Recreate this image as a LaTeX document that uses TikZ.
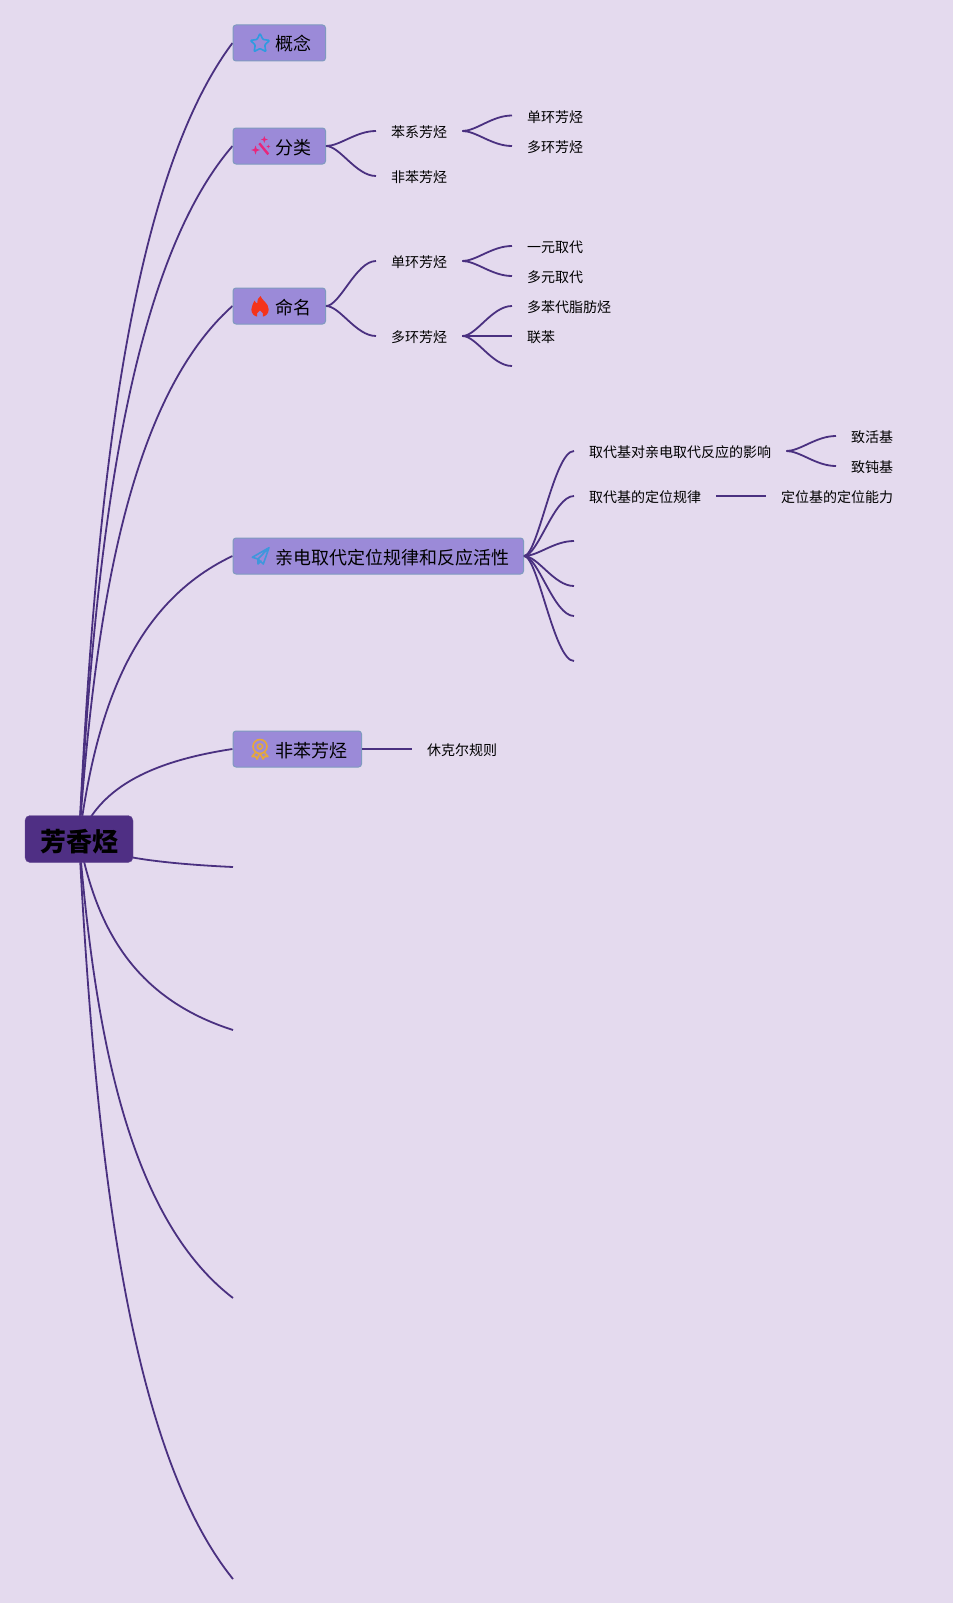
\documentclass[tikz,border=0pt]{standalone}
\usepackage{fontspec}
\setmainfont{Noto Sans CJK SC}
\usetikzlibrary{calc,backgrounds}
\definecolor{paper}{HTML}{E4DAEE}
\definecolor{linkcol}{HTML}{4A3080}
\definecolor{rootcol}{HTML}{4F2F84}
\definecolor{topiccol}{HTML}{9B8AD8}
\definecolor{edgecol}{HTML}{7F9ABF}
\tikzset{
	link/.style={linkcol,line width=1.8pt},
	rootnode/.style={fill=rootcol,draw=rootcol!85!white,rounded corners=5pt,minimum width=108pt,minimum height=47pt,inner sep=0pt,text height=24pt,text depth=0pt,font=\fontsize{26}{30}\selectfont\bfseries},
	topic/.style={anchor=west,fill=topiccol,draw=edgecol,line width=1pt,rounded corners=3pt,minimum height=36pt,inner xsep=14pt,inner ysep=0pt,text height=17pt,text depth=1pt,font=\fontsize{18}{22}\selectfont},
	leaf/.style={anchor=west,inner xsep=15pt,inner ysep=0pt,text height=15pt,text depth=2pt,font=\fontsize{14}{16}\selectfont},
	icon/.style={line width=1.6pt,line join=round,line cap=round}
}
% link from the root to the end #1
\def\trunk(#1) {\draw[link] let \p1=($(#1)-(root.center)$) in (root.center) .. controls ($(root.center)+(.1*\x1,.4*\y1)$) and ($(root.center)+(.3*\x1,.82*\y1)$) .. (#1);}
\def\sparkle(#1)(#2) {\fill[shift={(#1)},scale=#2] (0,1) -- (.25,.25) -- (1,0) -- (.25,-.25) -- (0,-1) -- (-.25,-.25) -- (-1,0) -- (-.25,.25) -- cycle;}

\begin{document}
\begin{tikzpicture}[x=1pt,y=-1pt]
	\useasboundingbox (0,0) rectangle (953,1603);
	%TOPICS
	\node[rootnode] (root) at (79,839) {芳香烃};
	\node[topic] (gainian) at (232.5,43) {\hspace*{28.5pt}概念};
	\node[topic] (fenlei) at (232.5,146) {\hspace*{28.5pt}分类};
	\node[topic] (mingming) at (232.5,306) {\hspace*{28.5pt}命名};
	\node[topic] (qindian) at (232.5,556) {\hspace*{28.5pt}亲电取代定位规律和反应活性};
	\node[topic] (feiben) at (232.5,749) {\hspace*{28.5pt}非苯芳烃};
	\coordinate (endA) at (233,867);
	\coordinate (endB) at (233,1030);
	\coordinate (endC) at (233,1298);
	\coordinate (endD) at (233,1579);
	%
	\node[leaf] (benxi) at (376,131) {苯系芳烃};
	\node[leaf] (feibenxi) at (376,176) {非苯芳烃};
	\node[leaf] (dan) at (512,115.5) {单环芳烃};
	\node[leaf] (duo) at (512,146) {多环芳烃};
	%
	\node[leaf] (danhuan) at (376,261) {单环芳烃};
	\node[leaf] (duohuan) at (376,336) {多环芳烃};
	\node[leaf] (yiyuan) at (512,246) {一元取代};
	\node[leaf] (duoyuan) at (512,276) {多元取代};
	\node[leaf] (zhifang) at (512,306) {多苯代脂肪烃};
	\node[leaf] (lianben) at (512,336) {联苯};
	\coordinate (endE) at (512,366);
	%
	\node[leaf] (yingxiang) at (574,451) {取代基对亲电取代反应的影响};
	\node[leaf] (guilv) at (574,496) {取代基的定位规律};
	\coordinate (endF) at (574,541);
	\coordinate (endG) at (574,586);
	\coordinate (endH) at (574,616);
	\coordinate (endI) at (574,661);
	\node[leaf] (zhihuo) at (836,436) {致活基};
	\node[leaf] (zhidun) at (836,466) {致钝基};
	\node[leaf] (nengli) at (766,496) {定位基的定位能力};
	\node[leaf] (xiuke) at (412,749) {休克尔规则};
	
	%LINKS
	\begin{scope}[on background layer]
		\fill[paper] (0,0) rectangle (953,1603);
		\trunk(gainian.west)
		\trunk(fenlei.west)
		\trunk(mingming.west)
		\trunk(qindian.west)
		\trunk(feiben.west)
		\trunk(endA)
		\trunk(endB)
		\trunk(endC)
		\trunk(endD)
	\end{scope}
	\foreach \a/\b in {fenlei/benxi.west,fenlei/feibenxi.west,benxi/dan.west,benxi/duo.west,mingming/danhuan.west,mingming/duohuan.west,danhuan/yiyuan.west,danhuan/duoyuan.west,duohuan/zhifang.west,duohuan/endE,qindian/yingxiang.west,qindian/guilv.west,qindian/endF,qindian/endG,qindian/endH,qindian/endI,yingxiang/zhihuo.west,yingxiang/zhidun.west}
		\draw[link] (\a.east) .. controls +(14,0) and +(-20,0) .. (\b);
	\draw[link] (duohuan.east) -- (lianben.west);
	\draw[link] (guilv.east) -- (nengli.west);
	\draw[link] (feiben.east) -- (xiuke.west);
	
	%ICONS
	\begin{scope}[shift={(260,43.5)},yscale=-1]
		\draw[icon,color={rgb,255:red,47;green,155;blue,224},rounded corners=.8pt] (90:10) \foreach \d in {162,234,306,378} {-- (\d-36:5) -- (\d:10)} -- (54:5) -- cycle;
	\end{scope}
	\begin{scope}[shift={(260,146)},yscale=-1,color={rgb,255:red,232;green,38;blue,124},fill={rgb,255:red,232;green,38;blue,124}]
		\draw[line width=2.4pt] (-.7,2.7) -- (8.3,-8.3);
		\sparkle(4.3,6.5)(3.5)
		\sparkle(-4.5,-4)(4.5)
		\sparkle(8.3,-.5)(2)
	\end{scope}
	\begin{scope}[shift={(260,306)},yscale=-1]
		\fill[color={rgb,255:red,245;green,51;blue,27}] (.5,10) .. controls (1.5,6) and (8.7,3) .. (8.7,-3.5) .. controls (8.7,-8) and (5,-10.5) .. (3,-10.5) .. controls (4,-8) and (2.5,-6) .. (0,-4.5) .. controls (-2.5,-6) and (-4,-8) .. (-3,-10.5) .. controls (-5,-10.5) and (-8.7,-8) .. (-8.7,-3.5) .. controls (-8.7,0) and (-6.5,2.5) .. (-5.5,5.5) .. controls (-4.8,4) and (-3.8,3) .. (-2.8,2.5) .. controls (-3,5.5) and (-2,8.5) .. (.5,10) -- cycle;
	\end{scope}
	\begin{scope}[shift={(260.5,556)},yscale=-1]
		\draw[icon,color={rgb,255:red,63;green,151;blue,220}] (8.5,8.3) -- (-8.2,-1.3) -- (-2.5,-3) -- cycle (8.5,8.3) -- (2.8,-8) -- (-2.5,-3) -- (-2.5,-8) -- (.5,-5);
	\end{scope}
	\begin{scope}[shift={(260,749)},yscale=-1]
		\draw[icon,color={rgb,255:red,229;green,168;blue,59}] (0,2.5) circle[radius=7] (0,2.5) circle[radius=2.6] (-4,-3) -- (-8,-7.5) -- (-4.5,-7.5) -- (-3,-10) -- (-.5,-5) (4,-3) -- (8,-7.5) -- (4.5,-7.5) -- (3,-10) -- (.5,-5);
	\end{scope}
\end{tikzpicture}
\end{document}
